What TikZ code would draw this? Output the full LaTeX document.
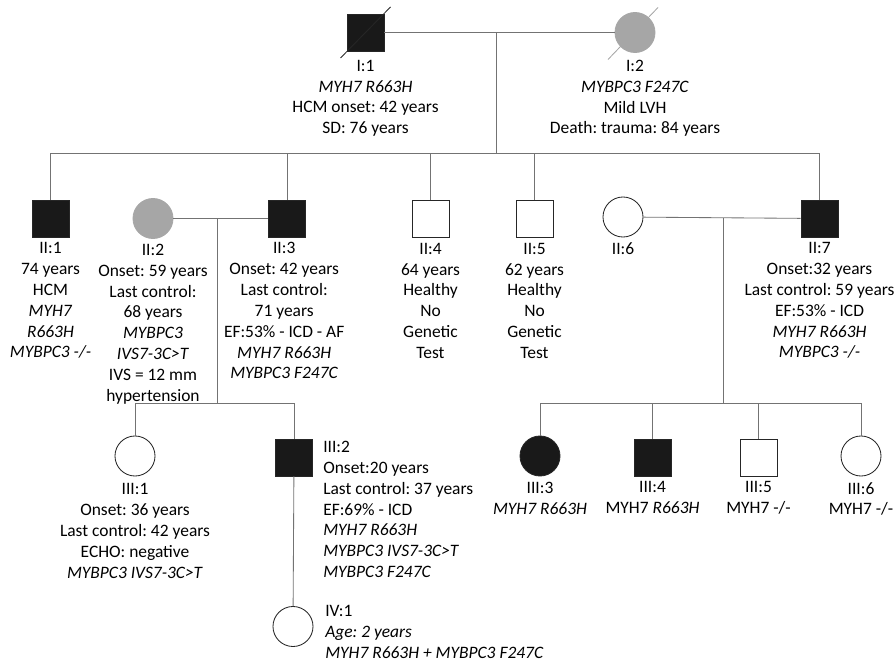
\documentclass[tikz,border=0pt]{standalone}
\usepackage{fontspec}
\setmainfont{Carlito}
\frenchspacing
\usetikzlibrary{positioning}

\begin{document}
\begin{tikzpicture}[x=0.025cm,y=-0.025cm,
    font=\fontsize{12.4}{14.8}\selectfont,
    line/.style={draw=black!55,line width=0.6pt},
    male/.style={rectangle,draw=black!85,minimum size=0.925cm,inner sep=0pt,line width=0.6pt},
    female/.style={circle,draw=black!85,minimum size=1cm,inner sep=0pt,line width=0.6pt},
    hcm/.style={fill=black!90},
    lvh/.style={fill=gray!70,draw=gray!70},
    info/.style={align=center,anchor=north,inner sep=0pt},
    infol/.style={align=left,anchor=north west,inner sep=0pt}]

    \useasboundingbox (0,0) rectangle (896,663);

    % generation I
    \node[male,hcm] (I1) at (365.5,32.5) {};
    \node[female,lvh] (I2) at (635,32.5) {};
    \draw[black!85,line width=0.6pt] (I1) ++(-25,25.5) -- ++(50,-51);
    \draw[gray!70,line width=0.6pt] (I2) ++(-27,27) -- ++(50,-52);
    \coordinate (m1) at (496,32.5);
    \coordinate (s1) at (496,153);
    \draw[line] (I1) -- (I2);
    \draw[line] (m1) -- (s1);

    \node[info,below=6pt of I1] (I1t) {I:1\\\textit{MYH7 R663H}\\HCM onset: 42 years\\SD: 76 years};
    \node[info,below=5pt of I2] (I2t) {I:2\\\textit{MYBPC3 F247C}\\Mild LVH\\Death: trauma: 84 years};

    % generation II
    \node[male,hcm] (II1) at (50.5,218.5) {};
    \node[female,lvh] (II2) at (153,218.5) {};
    \node[male,hcm] (II3) at (287,218.5) {};
    \node[male] (II4) at (430.5,219) {};
    \node[male] (II5) at (534.5,219) {};
    \node[female] (II6) at (623,217) {};
    \node[male,hcm] (II7) at (819.5,218.5) {};

    \draw[line] (II1.north) -- (II1.north |- s1) -- (II7.north |- s1) -- (II7.north);
    \foreach \n in {II3,II4,II5}
        \draw[line] (\n.north) -- (\n.north |- s1);

    \node[info,below=3.5pt of II1] (II1t) {II:1\\74 years\\HCM\\\textit{MYH7}\\\textit{R663H}\\\textit{MYBPC3 -/-}};
    \node[info,below=3.5pt of II2] (II2t) {II:2\\Onset: 59 years\\Last control:\\68 years\\\textit{MYBPC3}\\\textit{IVS7-3C>T}\\IVS = 12 mm\\hypertension};
    \node[info,below=3.5pt of II3,xshift=-2pt] (II3t) {II:3\\Onset: 42 years\\Last control:\\71 years\\EF:53\% - ICD - AF\\\textit{MYH7 R663H}\\\textit{MYBPC3 F247C}};
    \node[info,below=3.5pt of II4] (II4t) {II:4\\64 years\\Healthy\\No\\Genetic\\Test};
    \node[info,below=3.5pt of II5] (II5t) {II:5\\62 years\\Healthy\\No\\Genetic\\Test};
    \node[info,below=3.5pt of II6] (II6t) {II:6};
    \node[info,below=3.5pt of II7] (II7t) {II:7\\Onset:32 years\\Last control: 59 years\\EF:53\% - ICD\\\textit{MYH7 R663H}\\\textit{MYBPC3 -/-}};

    % generation III, left family
    \coordinate (m2) at (217,218.5);
    \coordinate (s2) at (217,403);
    \draw[line] (II2) -- (II3);
    \draw[line] (m2) -- (s2);

    \node[female] (III1) at (135,456) {};
    \node[male,hcm] (III2) at (294,457.5) {};
    \draw[line] (III1.north) -- (III1.north |- s2) -- (III2.north |- s2) -- (III2.north);

    \node[info,below=5pt of III1] (III1t) {III:1\\Onset: 36 years\\Last control: 42 years\\ECHO: negative\\\textit{MYBPC3 IVS7-3C>T}};
    \node[infol] (III2t) at (323,441) {III:2\\Onset:20 years\\Last control: 37 years\\EF:69\% - ICD\\\textit{MYH7 R663H}\\\textit{MYBPC3 IVS7-3C>T}\\\textit{MYBPC3 F247C}};

    % generation IV
    \node[female] (IV1) at (293,626.5) {};
    \draw[line] (III2) -- (IV1);
    \node[infol] (IV1t) at (325,605) {IV:1\\\textit{Age: 2 years}\\\textit{MYH7 R663H + MYBPC3 F247C}};

    % generation III, right family
    \coordinate (m3) at (723,218.5);
    \coordinate (s3) at (723,403);
    \draw[line] (II6) -- (II7);
    \draw[line] (m3) -- (s3);

    \node[female,hcm] (III3) at (540,456) {};
    \node[male,hcm] (III4) at (652.5,457.5) {};
    \node[male] (III5) at (758.5,457.5) {};
    \node[female] (III6) at (861,456) {};
    \draw[line] (III3.north) -- (III3.north |- s3) -- (III6.north |- s3) -- (III6.north);
    \foreach \n in {III4,III5}
        \draw[line] (\n.north) -- (\n.north |- s3);

    \node[info,below=4pt of III3] (III3t) {III:3\\\textit{MYH7 R663H}};
    \node[info,below=3.5pt of III4] (III4t) {III:4\\MYH7 \textit{R663H}};
    \node[info,below=3.5pt of III5] (III5t) {III:5\\MYH7 -/-};
    \node[info,below=4pt of III6] (III6t) {III:6\\MYH7 -/-};
\end{tikzpicture}
\end{document}
